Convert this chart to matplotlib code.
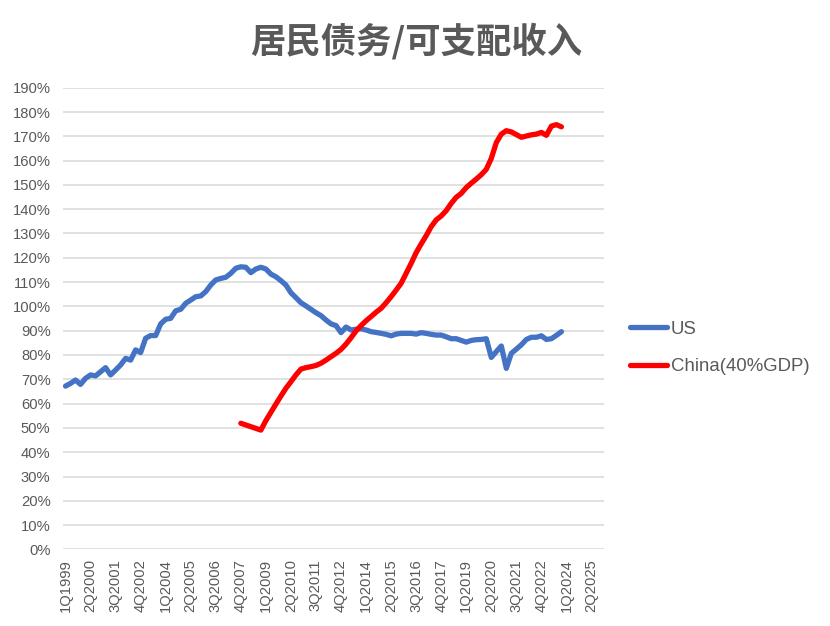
import matplotlib
matplotlib.use("Agg")
import matplotlib.pyplot as plt
import numpy as np

# ---- data ----
years = list(range(1999, 2026))
categories = [f"{q}Q{y}" for y in years for q in (1, 2, 3, 4)]  # 1Q1999 .. 4Q2025

tick_labels = ["1Q1999", "2Q2000", "3Q2001", "4Q2002", "1Q2004", "2Q2005", "3Q2006",
               "4Q2007", "1Q2009", "2Q2010", "3Q2011", "4Q2012", "1Q2014", "2Q2015",
               "3Q2016", "4Q2017", "1Q2019", "2Q2020", "3Q2021", "4Q2022", "1Q2024",
               "2Q2025"]

us_start = "1Q1999"
us_values = [
    67.2, 68.3, 69.7, 67.9, 70.4, 71.8, 71.4, 73.1, 74.8, 71.8,
    73.8, 75.9, 78.6, 77.9, 82.1, 81.0, 86.9, 88.0, 88.0, 92.8,
    94.7, 95.1, 98.2, 98.8, 101.3, 102.6, 104.0, 104.3, 106.1, 108.8,
    110.9, 111.5, 112.0, 113.6, 115.7, 116.3, 116.1, 113.9, 115.4, 116.1,
    115.4, 113.3, 112.2, 110.6, 108.8, 105.6, 103.6, 101.5, 100.2, 98.8,
    97.4, 96.2, 94.4, 92.8, 92.1, 89.2, 91.5, 90.3, 90.6, 90.8,
    90.3, 89.6, 89.3, 88.9, 88.5, 87.9, 88.6, 88.9, 88.9, 88.9,
    88.6, 89.2, 88.9, 88.5, 88.2, 88.2, 87.5, 86.7, 86.7, 86.0,
    85.3, 86.0, 86.3, 86.4, 86.7, 79.0, 81.4, 83.7, 74.5, 80.7,
    82.4, 84.2, 86.4, 87.3, 87.3, 87.9, 86.4, 86.7, 88.1, 89.6,
]

china_start = "4Q2007"
china_values = [
    51.9, 51.2, 50.5, 49.8, 49.1, 53.0, 56.4, 59.8, 63.1, 66.3,
    69.0, 71.8, 74.2, 74.8, 75.2, 75.7, 76.6, 77.9, 79.3, 80.7,
    82.3, 84.5, 87.1, 89.9, 92.1, 94.1, 95.8, 97.6, 99.2, 101.5,
    104.0, 106.7, 109.5, 113.6, 117.7, 122.1, 125.7, 129.1, 132.8, 135.6,
    137.2, 139.4, 142.4, 144.9, 146.5, 148.9, 150.7, 152.4, 154.2, 156.4,
    160.9, 167.4, 170.9, 172.3, 171.8, 170.7, 169.6, 170.1, 170.6, 170.9,
    171.6, 170.4, 174.2, 174.8, 173.9,
]

series_names = ["US", "China(40%GDP)"]
series_colors = ["#4472C4", "#FF0000"]

# ---- figure ----
plt.rcParams["font.family"] = ["Liberation Sans", "Noto Sans CJK SC", "DejaVu Sans"]
fig = plt.figure(figsize=(8.30, 6.26), dpi=100)
ax = fig.add_axes([63 / 830, 1 - 549.4 / 626, (604 - 63) / 830, (549.4 - 87.7) / 626])

pos = np.arange(len(categories))
us_i0 = categories.index(us_start)
cn_i0 = categories.index(china_start)
ax.plot(pos[us_i0:us_i0 + len(us_values)], np.array(us_values) / 100,
        color=series_colors[0], lw=3.8, solid_capstyle="round", solid_joinstyle="round",
        label=series_names[0], zorder=3)
ax.plot(pos[cn_i0:cn_i0 + len(china_values)], np.array(china_values) / 100,
        color=series_colors[1], lw=3.8, solid_capstyle="round", solid_joinstyle="round",
        label=series_names[1], zorder=3)

ax.set_xlim(-0.5, len(categories) - 0.5)
ax.set_ylim(0, 1.9)
yt = np.arange(0, 1.91, 0.1)
ax.set_yticks(yt)
ax.set_yticklabels([f"{int(round(v * 100))}%" for v in yt])
ax.set_xticks([categories.index(t) for t in tick_labels])
ax.set_xticklabels(tick_labels, rotation=90)
ax.grid(axis="y", color="#D9D9D9", lw=1.1)
ax.set_axisbelow(True)
for s in ax.spines.values():
    s.set_visible(False)
ax.tick_params(axis="both", length=0, colors="#595959", labelsize=10.6)
ax.tick_params(axis="y", pad=9)
ax.tick_params(axis="x", pad=7)

fig.text(0.502, 1 - 41 / 626, "居民债务/可支配收入", ha="center", va="center",
         fontsize=25.5, fontweight="bold", color="#595959",
         family=["Noto Sans CJK SC", "DejaVu Sans"])

leg = ax.legend(loc="center left", bbox_to_anchor=(630 / 830, 1 - 348 / 626),
                bbox_transform=fig.transFigure, frameon=False, fontsize=13.4,
                handlelength=2.0, handletextpad=0.2, labelspacing=1.1, borderpad=0,
                borderaxespad=0)
for t in leg.get_texts():
    t.set_color("#595959")

fig.savefig("out.png", dpi=100)
